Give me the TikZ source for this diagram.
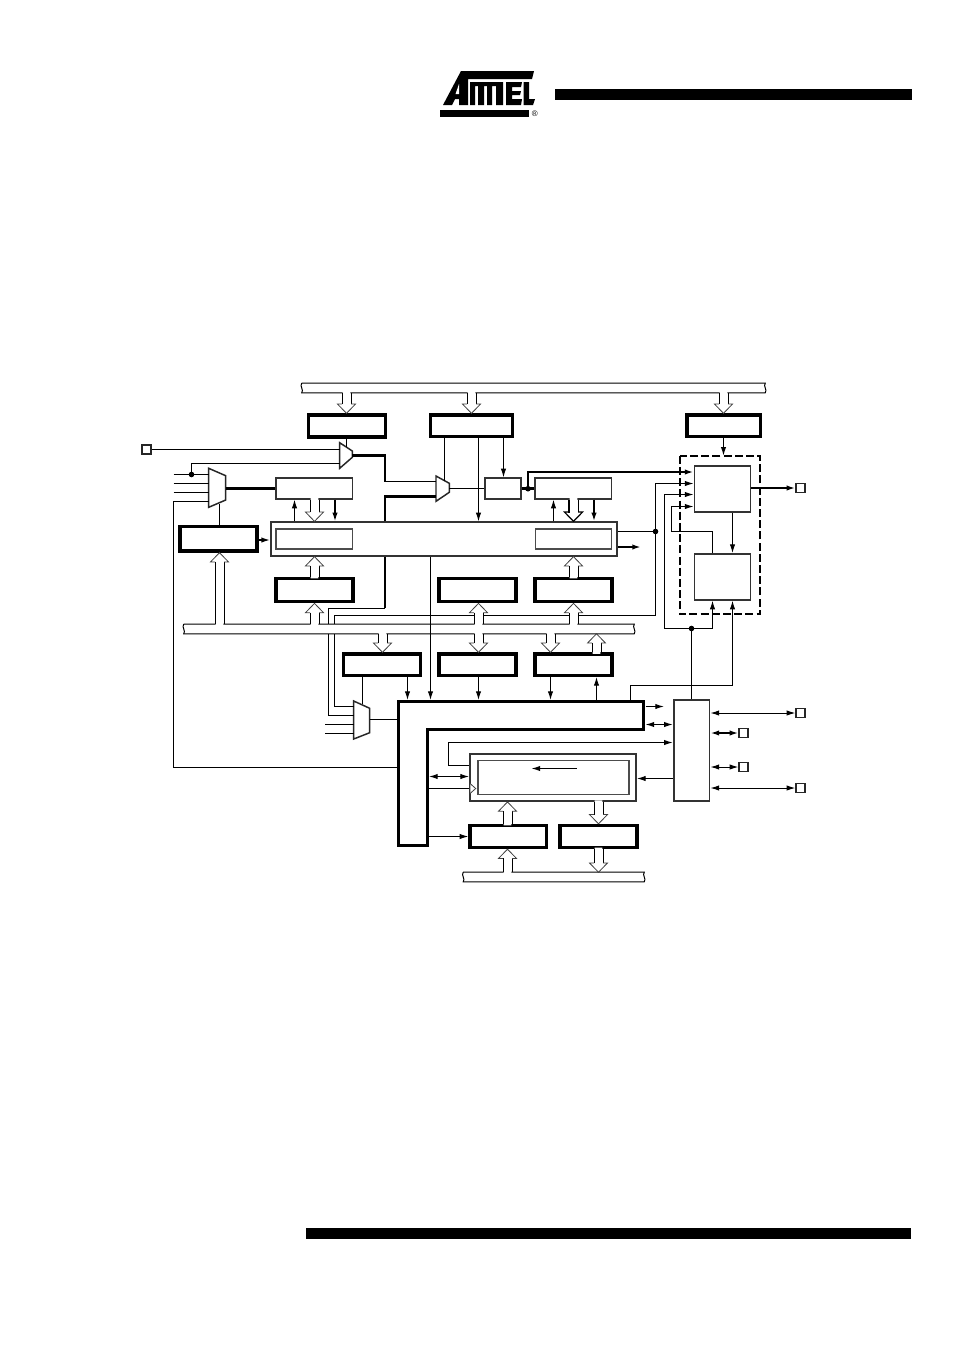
\documentclass[tikz,border=0pt]{standalone}
\usepackage{fontspec}
\setmainfont{Liberation Sans}
\usetikzlibrary{arrows.meta,calc}
\tikzset{
  wire/.style={line width=.75pt,black},
  heavy/.style={line width=2pt,black},
  tipa/.style={-{Latex[length=6.5pt,width=4pt]}},
  tipb/.style={{Latex[length=6.5pt,width=4pt]}-{Latex[length=6.5pt,width=4pt]}},
  regthick/.style={draw=black,line width=2.5pt,fill=white,inner sep=0pt},
  regthin/.style={draw=black!80,line width=1.4pt,fill=white,inner sep=0pt},
  regthinner/.style={draw=black!70,line width=1.2pt,fill=white,inner sep=0pt},
  pinbox/.style={draw=black!85,line width=1.4pt,fill=white,inner sep=0pt},
  busframe/.style={inner sep=0pt},
  junction/.style={circle,fill=black,inner sep=0pt,minimum size=4.2pt},
  muxshape/.style={draw=black!85,line width=1.1pt,fill=white,line join=miter},
  ohead/.style={line width=.6pt,black!75,line join=miter},
  heavyhead/.style={line width=.9pt,black,line join=miter},
  corebar/.style={fill=black,inner sep=0pt},
}
\newcommand\bx[6]{%
  \pgfmathsetmacro\bxw{(#5-#3)*0.75}\pgfmathsetmacro\bxh{(#6-#4)*0.75}%
  \node[#1,minimum width=\bxw pt,minimum height=\bxh pt] (#2) at ({(#3+#5)/2},{(#4+#6)/2}) {};}
% open arrow: from, to (tip), x, direction (1 down, -1 up)
\newcommand\openarrow[5][ohead]{%
  \coordinate (F) at (#4,0 |- #2);\coordinate (T) at (#4,0 |- #3);
  \coordinate (FL) at ($(F)+(-4.5,0)$);\coordinate (FR) at ($(F)+(4.5,0)$);
  \coordinate (BL) at ($(T)+(-4.5,{-9.3*#5})$);\coordinate (BR) at ($(T)+(4.5,{-9.3*#5})$);
  \coordinate (HL) at ($(T)+(-9,{-9.3*#5})$);\coordinate (HR) at ($(T)+(9,{-9.3*#5})$);
  \fill[white] ($(FL)+(.6,{-1.5*#5})$) -- (BL) -- (HL) -- (T) -- (HR) -- (BR) -- ($(FR)+(-.6,{-1.5*#5})$) -- cycle;
  \draw[wire] (FL) -- (BL) (FR) -- (BR);
  \draw[#1] (BL) -- (HL) -- (T) -- (HR) -- (BR);}
\newcommand\busdraw[1]{%
  \draw[wire] (#1.north west) -- (#1.north east) .. controls +(-2.4,3) and +(2.4,-3) .. (#1.south east) -- (#1.south west) .. controls +(2.4,-3) and +(-2.4,3) .. (#1.north west);}
\begin{document}
\begin{tikzpicture}[x=.75pt,y=-.75pt]
\useasboundingbox (0,0) rectangle (954,1350);
\fill[white] (0,0) rectangle (954,1350);
% page bars
\bx{corebar}{headbar}{555}{89}{912}{100}
\bx{corebar}{footbar}{305.5}{1228}{911}{1239}
% logo
\fill[black] (440,109.5) -- (529,109.5) -- (529,117) -- (440,117) -- cycle;
\fill[black] (461,71) -- (534,71) -- (532,79) -- (468,79) -- (468,105) -- (459,105) -- (459,99) -- (455,99) -- (452,105) -- (443,105) -- cycle;
\fill[white] (459,84) -- (459,94) -- (455.5,94) -- cycle;
\fill[black] (470,82) -- (503,82) -- (503,105) -- (496,105) -- (496,86) -- (492,86) -- (492,105) -- (487,105) -- (487,86) -- (484,86) -- (484,105) -- (478,105) -- (478,86) -- (475,86) -- (475,105) -- (470,105) -- cycle;
\fill[black] (506,82) -- (522,82) -- (521,87) -- (512,87) -- (512,91) -- (521,91) -- (520,95) -- (512,95) -- (512,99) -- (522,99) -- (521,105) -- (506,105) -- cycle;
\fill[black] (523.5,82) -- (529,82) -- (529,99) -- (535,99) -- (533,105) -- (523.5,105) -- cycle;
\node[inner sep=0pt,font=\fontsize{6}{7}\selectfont] (regmark) at (534.7,113.5) {®};

% buses
\bx{busframe}{bustop}{302}{383.5}{765}{392.5}
\bx{busframe}{busmid}{184}{624.5}{634}{633.5}
\bx{busframe}{busbot}{463.5}{872.5}{644}{881.5}
\busdraw{bustop}\busdraw{busmid}\busdraw{busbot}

% registers
\bx{regthick}{ra}{308.5}{415}{385.5}{437}
\bx{regthick}{rb}{430.5}{415}{512.5}{436.5}
\bx{regthick}{rc}{687}{415}{760.5}{436.5}
\bx{regthick}{rl}{180}{526.7}{257}{551}
\bx{regthin}{sl}{276}{478.3}{352.5}{498.7}
\bx{regthin}{sm}{485.3}{478.3}{521}{498.7}
\bx{regthin}{sr}{535.3}{478.3}{611.5}{498.7}
\bx{regthin}{main}{271}{522.3}{617}{555.7}
\bx{regthinner}{il}{276}{528.7}{352.5}{549}
\bx{regthinner}{ir}{535.3}{528.7}{611.5}{549}
\bx{regthick}{ba}{276}{578.5}{353}{601.7}
\bx{regthick}{bb}{439}{578.5}{516}{601.7}
\bx{regthick}{bc}{535}{578.5}{612}{601.7}
\bx{regthick}{da}{343.5}{654}{420.5}{675.3}
\bx{regthick}{db}{439}{654}{516}{675.3}
\bx{regthick}{dc}{535}{654}{612}{675.3}
\bx{regthin}{shout}{470}{754.3}{636}{801}
\bx{regthinner}{shin}{477.7}{760.3}{628.7}{794.3}
\bx{regthick}{ja}{470}{825.5}{546.5}{847.5}
\bx{regthick}{jb}{560}{825.5}{637}{847.5}
\bx{regthin}{hi}{694.5}{465.7}{750.5}{512}
\bx{regthin}{lo}{694.5}{554}{750.5}{599.7}
\bx{regthin}{ctl}{673.7}{700}{709.5}{801}

% dashed enclosure
\coordinate (dashnw) at (680,455.7);\coordinate (dashse) at (760,614.3);
\draw[line width=1.6pt,dash pattern=on 6pt off 2.4pt] (dashnw) rectangle (dashse);

% L-shaped block
\coordinate (la) at (397,700);\coordinate (lb) at (645.5,700);\coordinate (lc) at (645.5,731.5);
\coordinate (ld) at (429,731.5);\coordinate (le) at (429,847);\coordinate (lf) at (397,847);
\draw[line width=2.5pt,fill=white] ([shift={(1.7,1.7)}]la) -- ([shift={(-1.7,1.7)}]lb) -- ([shift={(-1.7,-1.7)}]lc) -- ([shift={(-1.7,-1.7)}]ld) -- ([shift={(-1.7,-1.7)}]le) -- ([shift={(1.7,-1.7)}]lf) -- cycle;

% muxes
\coordinate (m1a) at (339.7,442.7);\coordinate (m1b) at (352.3,451);\coordinate (m1c) at (352.3,457.3);\coordinate (m1d) at (339.7,468.3);
\coordinate (m2a) at (436,476);\coordinate (m2b) at (449.3,483.3);\coordinate (m2c) at (449.3,492.3);\coordinate (m2d) at (436,501.3);
\coordinate (m0a) at (208.7,468.3);\coordinate (m0b) at (225.7,475.7);\coordinate (m0c) at (225.7,500);\coordinate (m0d) at (208.7,507.3);
\coordinate (m3a) at (353.7,701);\coordinate (m3b) at (369.7,708.3);\coordinate (m3c) at (369.7,732.7);\coordinate (m3d) at (353.7,739);

% pins
\bx{pinbox}{p0}{141.7}{445}{151}{454}
\bx{pinbox}{p1}{796.3}{483.5}{805.3}{492.5}
\bx{pinbox}{p2}{796.3}{708.5}{805.3}{717.5}
\bx{pinbox}{p3}{739.3}{728.5}{748.3}{737.5}
\bx{pinbox}{p4}{739.3}{762.5}{748.3}{771.5}
\bx{pinbox}{p5}{796.3}{783.5}{805.3}{792.5}

% free ends of mux inputs
\coordinate (i0a) at (173.5,474.5);\coordinate (i0b) at (173.5,483.5);\coordinate (i0c) at (173.5,492.5);\coordinate (i0d) at (173.5,501.5);
\coordinate (i3c) at (325,724.5);\coordinate (i3d) at (325,733.5);
\node[junction] (j0) at (191.5,474.5) {};
\node[junction] (j1) at (528,488.7) {};
\node[junction] (j2) at (655.5,531.5) {};
\node[junction] (j3) at (691.5,628.5) {};

% open arrows from and to buses
\openarrow{bustop.south}{ra.north}{346.5}{1}
\openarrow{bustop.south}{rb.north}{471.5}{1}
\openarrow{bustop.south}{rc.north}{723.5}{1}
\openarrow{sl.south}{main.north}{314.5}{1}
\openarrow[heavyhead]{sr.south}{main.north}{573.5}{1}
\draw[line width=1.5pt] (569,0 |- sr.south) -- (569,512.7);
\openarrow{ba.north}{main.south}{314.5}{-1}
\openarrow{bc.north}{main.south}{573.5}{-1}
\openarrow{busmid.north}{rl.south}{219.5}{-1}
\openarrow{busmid.north}{ba.south}{314.5}{-1}
\openarrow{busmid.north}{bb.south}{478.5}{-1}
\openarrow{busmid.north}{bc.south}{573.5}{-1}
\openarrow{busmid.south}{da.north}{382.5}{1}
\openarrow{busmid.south}{db.north}{478.5}{1}
\openarrow{busmid.south}{dc.north}{550.5}{1}
\openarrow{dc.north}{busmid.south}{596.5}{-1}
\openarrow{ja.north}{shout.south}{507.5}{-1}
\openarrow{shout.south}{jb.north}{598.5}{1}
\openarrow{busbot.north}{ja.south}{507.5}{-1}
\openarrow{jb.south}{busbot.north}{598.5}{1}

% mux polygons
\draw[muxshape] (m1a) -- (m1b) -- (m1c) -- (m1d) -- cycle;
\draw[muxshape] (m2a) -- (m2b) -- (m2c) -- (m2d) -- cycle;
\draw[muxshape] (m0a) -- (m0b) -- (m0c) -- (m0d) -- cycle;
\draw[muxshape] (m3a) -- (m3b) -- (m3c) -- (m3d) -- cycle;

% upper left wiring
\draw[wire] (p0.east) -- (m1a |- p0.east);
\draw[wire] (346.5,0 |- ra.south) -- (346.5,446.5);
\draw[wire] (j0.center) -- (191.5,463.5) -- (m1a |- 0,463.5);
\draw[wire] (i0a) -- (m0a |- i0a);
\draw[wire] (i0b) -- (m0a |- i0b);
\draw[wire] (i0c) -- (m0a |- i0c);
\draw[wire] (m0a |- i0d) -- (i0d) -- (173.5,767.5) -- (la |- 0,767.5);
\draw[heavy,line join=miter] (m0b |- sl.west) -- (sl.west);
\draw[wire] (219.5,0 |- rl.north) -- (219.5,504);
\draw[wire,tipa,line width=1.1pt] (rl.east |- 0,540) -- (main.west |- 0,540);
\draw[wire,tipa] (294.5,0 |- main.north) -- (294.5,0 |- sl.south);
\draw[wire,tipa,line width=1.1pt] (335,0 |- sl.south) -- (335,0 |- main.north);
\draw[heavy,line join=miter] (m1b |- 0,455.7) -- (385,455.7) -- (385,482);
\draw[wire] (385,481.5) -- (m2a |- 0,481.5);
\draw[heavy,line join=miter] (385,0 |- main.north) -- (385,496.7) -- (m2a |- 0,496.7);
\draw[wire] (444.5,0 |- rb.south) -- (444.5,480.5);
\draw[wire] (m2b |- 0,488.5) -- (sm.west |- 0,488.5);
\draw[wire,tipa] (503.5,0 |- rb.south) -- (503.5,0 |- sm.north);
\draw[wire,tipa] (478.5,0 |- rb.south) -- (478.5,0 |- main.north);
\draw[heavy] (sm.east) -- (sr.west);
\draw[line width=1.6pt,tipa] (j1.center) -- (528,472) -- (hi.west |- 0,472);
\draw[wire,tipa] (553.5,0 |- main.north) -- (553.5,0 |- sr.south);
\draw[line width=1.5pt,tipa] (594,0 |- sr.south) -- (594,0 |- main.north);
\draw[line width=1.6pt,tipa] (main.east |- 0,547) -- (641,547);
\draw[wire] (main.east |- j2) -- (j2.center);
\draw[wire,tipa] (j2.center) -- (655.5,483.5) -- (hi.west |- 0,483.5);
\draw[wire] (j2.center) -- (655.5,615.5) -- (578,615.5);
\draw[wire] (334.5,0 |- busmid.north) -- (334.5,615.5) -- (474,615.5);
\draw[wire] (483,615.5) -- (569,615.5);
\draw[heavy,line join=miter] (385,0 |- main.south) -- (385,608);
\draw[wire] (385,608.5) -- (328.5,608.5) -- (328.5,0 |- busmid.north);
\draw[wire] (328.5,0 |- busmid.south) -- (328.5,715.5) -- (m3a |- 0,715.5);
\draw[wire] (334.5,0 |- busmid.south) -- (334.5,706.5) -- (m3a |- 0,706.5);
\draw[wire] (i3c) -- (m3a |- i3c);
\draw[wire] (i3d) -- (m3a |- i3d);
\draw[wire] (m3b |- 0,719.5) -- (la |- 0,719.5);
\draw[wire,tipa] (430.5,0 |- main.south) -- (430.5,0 |- la);
\draw[wire] (362.5,0 |- da.south) -- (362.5,703.5);
\draw[wire,tipa] (407.5,0 |- da.south) -- (407.5,0 |- la);
\draw[wire,tipa] (478.5,0 |- db.south) -- (478.5,0 |- la);
\draw[wire,tipa] (550.5,0 |- dc.south) -- (550.5,0 |- la);
\draw[wire,tipa] (596.5,0 |- la) -- (596.5,0 |- dc.south);
\draw[wire,tipa] (723.5,0 |- rc.south) -- (723.5,0 |- dashnw);
\draw[wire,tipa] (732.5,0 |- hi.south) -- (732.5,0 |- lo.north);
\draw[line width=1.6pt,tipa] (hi.east |- p1.west) -- (p1.west);
\draw[wire,tipa] (712.5,0 |- lo.north) -- (712.5,531.5) -- (671.5,531.5) -- (671.5,506.5) -- (hi.west |- 0,506.5);
\draw[wire,tipa] (j3.center) -- (664.5,628.5) -- (664.5,494.5) -- (hi.west |- 0,494.5);
\draw[wire,tipa] (j3.center) -- (712.5,628.5) -- (712.5,0 |- lo.south);
\draw[wire] (691.5,0 |- ctl.north) -- (j3.center);
\draw[wire,tipa] (630.5,0 |- lb) -- (630.5,685.5) -- (732.5,685.5) -- (732.5,0 |- lo.south);

% lower right wiring
\draw[wire,tipa] (lb |- 0,706.5) -- (664,706.5);
\draw[wire,tipb] (lb |- 0,724.5) -- (ctl.west |- 0,724.5);
\draw[wire,tipa] (shout.west |- 0,765.5) -- (448.5,765.5) -- (448.5,742.5) -- (ctl.west |- 0,742.5);
\draw[wire,tipa] (ctl.west |- 0,778.5) -- (shout.east |- 0,778.5);
\draw[wire,tipb] (ctl.east |- p2.west) -- (p2.west);
\draw[line width=1.2pt,tipb] (ctl.east |- p3.west) -- (p3.west);
\draw[wire,tipb] (ctl.east |- p4.west) -- (p4.west);
\draw[wire,tipb] (ctl.east |- p5.west) -- (p5.west);
\draw[wire,tipa] (576.5,768.5) -- (531.5,768.5);
\draw[wire,tipb] (ld |- 0,776.5) -- (shout.west |- 0,776.5);
\draw[wire] (ld |- 0,788.5) -- (shout.west |- 0,788.5);
\coordinate (cka) at (470.3,783.7);\coordinate (ckb) at (475.7,788.5);\coordinate (ckc) at (470.3,793.3);
\draw[ohead,fill=white] (cka) -- (ckb) -- (ckc);
\draw[wire,tipa] (ld |- ja.west) -- (ja.west);
\end{tikzpicture}
\end{document}
